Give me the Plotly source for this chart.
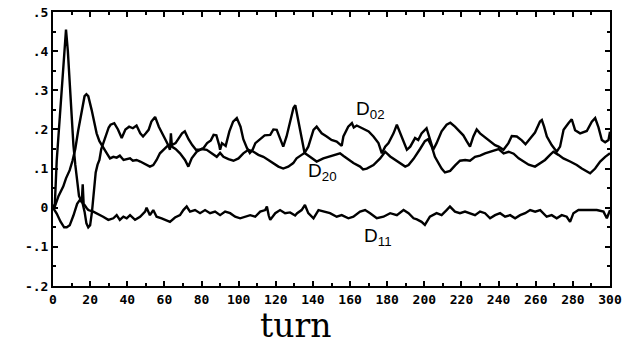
import plotly.graph_objects as go

# ---- data ----
d02_turn = [0, 1, 2, 3, 4, 5, 6, 7, 8, 9, 10, 11, 12, 13, 14, 15, 16, 17, 18, 19, 20, 21, 22, 23, 24, 25, 26, 27, 28, 29, 30, 31, 33, 35, 36, 37, 39, 41, 43, 45, 47, 48.5, 50, 51.5, 53, 55, 57, 59, 61, 62, 63, 63.5, 64, 66, 68, 69.5, 71, 73, 75, 77, 79, 81, 83, 85, 86.5, 88, 89.5, 90, 91, 93, 95, 97, 99, 101, 102.5, 104.5, 106, 107.5, 109, 111.5, 114, 117, 118.7, 120.5, 122.3, 124, 125.8, 127.6, 129.5, 130.5, 132, 133.9, 135.5, 137.5, 140.3, 142, 144.7, 147.4, 150, 152.8, 155.5, 156.4, 159, 161, 162, 163.6, 166.3, 170, 172.6, 175.3, 177.1, 178.9, 180.7, 183.4, 185.2, 187, 188.8, 190.6, 192.4, 195, 196.7, 198.5, 201.2, 203, 204.8, 206.6, 209.3, 212, 214, 216.5, 219.2, 221, 222.8, 224.6, 226.4, 228.2, 230, 232.7, 235.4, 238.1, 240, 242.6, 245.3, 247.1, 249.8, 252.5, 254.5, 257, 259.6, 262.3, 263.3, 264.5, 266, 268.6, 271.3, 273.1, 275, 277.6, 279.4, 281.2, 283.9, 287.5, 290.2, 292, 293.8, 295.6, 297.4, 299.2, 300]
d02_val = [0.0, 0.01, 0.12, 0.19, 0.26, 0.33, 0.40, 0.455, 0.40, 0.31, 0.23, 0.16, 0.11, 0.06, 0.03, 0.02, 0.01, -0.01, -0.04, -0.05, -0.045, -0.01, 0.04, 0.09, 0.11, 0.122, 0.15, 0.165, 0.18, 0.19, 0.205, 0.212, 0.216, 0.2, 0.19, 0.178, 0.2, 0.207, 0.203, 0.21, 0.19, 0.182, 0.19, 0.199, 0.22, 0.232, 0.207, 0.19, 0.17, 0.16, 0.148, 0.19, 0.16, 0.165, 0.18, 0.19, 0.195, 0.175, 0.16, 0.148, 0.148, 0.152, 0.165, 0.172, 0.186, 0.185, 0.16, 0.148, 0.165, 0.158, 0.195, 0.22, 0.229, 0.207, 0.175, 0.152, 0.14, 0.148, 0.165, 0.176, 0.185, 0.186, 0.2, 0.199, 0.178, 0.156, 0.182, 0.22, 0.255, 0.262, 0.224, 0.173, 0.14, 0.156, 0.199, 0.207, 0.19, 0.182, 0.173, 0.169, 0.158, 0.182, 0.207, 0.216, 0.205, 0.21, 0.203, 0.195, 0.182, 0.165, 0.139, 0.156, 0.165, 0.19, 0.212, 0.19, 0.165, 0.148, 0.156, 0.178, 0.173, 0.19, 0.203, 0.173, 0.148, 0.165, 0.195, 0.212, 0.217, 0.207, 0.195, 0.185, 0.17, 0.156, 0.182, 0.2, 0.19, 0.18, 0.17, 0.16, 0.156, 0.148, 0.165, 0.183, 0.182, 0.172, 0.162, 0.178, 0.192, 0.22, 0.224, 0.207, 0.182, 0.16, 0.143, 0.156, 0.199, 0.216, 0.226, 0.198, 0.19, 0.196, 0.22, 0.229, 0.205, 0.173, 0.167, 0.173, 0.194]

d20_turn = [0, 1, 3, 5.5, 7, 9, 10.5, 12, 13.6, 15.5, 17, 18, 19, 20.8, 22, 23.5, 25, 27, 29, 30.7, 32.5, 34.3, 36, 38, 40, 41.5, 43, 45, 47, 48.6, 50.5, 52.2, 54, 55.8, 57.6, 60.3, 62.1, 64, 66, 68.4, 70, 71.1, 72.9, 74.7, 77.4, 80, 82.8, 85.5, 88.2, 90, 91.8, 94.5, 97.2, 99.9, 102.5, 105.2, 108, 110.6, 113.3, 116, 118.7, 121.4, 124, 126.7, 129.4, 131.2, 133.9, 135.5, 138.4, 142, 145.6, 148, 151, 154.6, 156.5, 158.2, 161.8, 165.4, 167, 169, 172.6, 176.2, 178.9, 181.6, 184.3, 187, 189.7, 191.5, 194.2, 197.7, 200.3, 202, 204, 205.7, 207.5, 209.3, 211.1, 213.9, 216.6, 219.2, 222, 224.6, 227.3, 230, 232.7, 235.4, 238.1, 240, 242.7, 245.4, 248.1, 250.8, 253.5, 256.2, 259.6, 262.3, 265, 267.7, 269.5, 272.2, 274.9, 278.5, 282.1, 284.8, 287.5, 289.3, 292, 294.7, 297.4, 300]
d20_val = [0.0, 0.003, 0.03, 0.054, 0.075, 0.096, 0.12, 0.15, 0.198, 0.25, 0.285, 0.29, 0.285, 0.25, 0.22, 0.19, 0.17, 0.156, 0.139, 0.126, 0.13, 0.128, 0.133, 0.122, 0.125, 0.126, 0.12, 0.122, 0.118, 0.114, 0.108, 0.105, 0.109, 0.122, 0.139, 0.152, 0.16, 0.156, 0.15, 0.139, 0.13, 0.122, 0.105, 0.126, 0.143, 0.15, 0.148, 0.139, 0.13, 0.14, 0.13, 0.124, 0.12, 0.126, 0.139, 0.148, 0.143, 0.135, 0.13, 0.122, 0.114, 0.105, 0.1, 0.105, 0.114, 0.126, 0.135, 0.14, 0.13, 0.118, 0.126, 0.13, 0.135, 0.139, 0.132, 0.126, 0.114, 0.105, 0.098, 0.1, 0.109, 0.126, 0.143, 0.131, 0.122, 0.114, 0.105, 0.109, 0.125, 0.15, 0.17, 0.175, 0.156, 0.13, 0.114, 0.1, 0.09, 0.094, 0.108, 0.12, 0.122, 0.12, 0.13, 0.133, 0.139, 0.143, 0.148, 0.15, 0.139, 0.143, 0.138, 0.126, 0.118, 0.11, 0.105, 0.114, 0.122, 0.135, 0.143, 0.135, 0.126, 0.118, 0.109, 0.1, 0.092, 0.088, 0.1, 0.118, 0.13, 0.139]

d11_turn = [0, 2, 4, 6, 7.4, 9, 11, 13, 14.5, 15.5, 16, 16.5, 18, 19, 21.7, 23.5, 25, 27, 29.8, 32.5, 34.3, 36, 37.9, 39.7, 41.5, 44.2, 46.9, 49.6, 50.4, 52.2, 54, 55.8, 58.5, 60.3, 63, 65.7, 68.4, 70.2, 72, 73.8, 76.5, 79.2, 81.9, 84.6, 87.3, 90, 92.7, 95.4, 98.1, 100.8, 103.5, 106.2, 108.9, 111.6, 114.3, 115.2, 116.2, 117, 119.7, 122.3, 125, 127.7, 130.4, 131.5, 133.9, 135.7, 137.5, 140.3, 143, 145.6, 149.2, 152.8, 155.5, 159.1, 161.8, 165.4, 168.1, 170.8, 174.4, 178, 181.6, 185.2, 188.8, 191.5, 194.2, 196, 198.5, 200.3, 203, 206.6, 209.3, 212, 213.8, 216.5, 219.2, 221.9, 224.6, 227.3, 230, 232.7, 235.4, 238.1, 240.8, 243.5, 246.2, 248.9, 251.6, 254.3, 257, 259.7, 262.4, 265.9, 268.6, 271.3, 274, 276.7, 278.5, 280.3, 283, 285.7, 289.3, 292.9, 296.5, 298.3, 300]
d11_val = [0.0, -0.015, -0.035, -0.05, -0.05, -0.045, -0.02, 0.01, 0.02, 0.015, 0.06, 0.01, 0.0, -0.006, -0.01, -0.014, -0.018, -0.023, -0.031, -0.027, -0.019, -0.031, -0.023, -0.027, -0.019, -0.031, -0.023, -0.01, 0.0, -0.019, -0.006, -0.023, -0.027, -0.031, -0.036, -0.025, -0.019, -0.006, 0.003, -0.01, -0.006, -0.014, -0.006, -0.014, -0.01, -0.019, -0.01, -0.014, -0.023, -0.027, -0.023, -0.019, -0.023, -0.01, -0.006, 0.003, -0.02, -0.031, -0.014, -0.006, -0.014, -0.012, -0.02, -0.014, -0.006, 0.007, -0.014, -0.027, -0.006, -0.01, -0.014, -0.023, -0.019, -0.027, -0.023, -0.01, -0.006, -0.014, -0.027, -0.023, -0.014, -0.019, -0.006, -0.014, -0.027, -0.03, -0.036, -0.044, -0.023, -0.014, -0.019, -0.006, 0.003, -0.01, -0.014, -0.01, -0.014, -0.019, -0.01, -0.014, -0.027, -0.019, -0.014, -0.023, -0.019, -0.027, -0.019, -0.014, -0.006, -0.01, -0.006, -0.023, -0.019, -0.027, -0.019, -0.023, -0.036, -0.014, -0.006, -0.006, -0.006, -0.006, -0.01, -0.027, -0.006]

x_ticks = [0, 20, 40, 60, 80, 100, 120, 140, 160, 180, 200, 220, 240, 260, 280, 300]
y_ticks = [-0.2, -0.1, 0.0, 0.1, 0.2, 0.3, 0.4, 0.5]
y_tick_text = ["-.2", "-.1", "0", ".1", ".2", ".3", ".4", ".5"]

labels = [("D<sub>02</sub>", 162, 0.25), ("D<sub>20</sub>", 136.5, 0.09), ("D<sub>11</sub>", 166.5, -0.075)]

fig = go.Figure()
for t, v in [(d02_turn, d02_val), (d20_turn, d20_val), (d11_turn, d11_val)]:
    fig.add_trace(go.Scatter(x=t, y=v, mode="lines",
                             line=dict(color="black", width=2.4), showlegend=False))

for txt, xx, yy in labels:
    fig.add_annotation(x=xx, y=yy, text=txt, showarrow=False, xanchor="left", yanchor="middle",
                       font=dict(family="Liberation Sans, Arial", size=19, color="black"))

fig.add_annotation(xref="paper", yref="paper", x=0.436, y=-0.145, text="turn", showarrow=False,
                   xanchor="center", yanchor="middle",
                   font=dict(family="DejaVu Serif", size=33, color="black", weight=300))

tickfont = dict(family="DejaVu Sans Mono", size=13, color="black", weight="bold")
fig.update_xaxes(range=[0, 300], tickvals=x_ticks, ticktext=[str(v) for v in x_ticks],
                 ticks="inside", ticklen=5, tickwidth=1.5, tickcolor="black",
                 minor=dict(dtick=10, ticks="inside", ticklen=3, tickcolor="black"),
                 showline=True, linecolor="black", linewidth=2, mirror="ticks",
                 showgrid=False, zeroline=False, tickfont=tickfont)
fig.update_yaxes(range=[-0.2, 0.5], tickvals=y_ticks, ticktext=y_tick_text,
                 ticks="inside", ticklen=5, tickwidth=1.5, tickcolor="black",
                 minor=dict(dtick=0.05, ticks="inside", ticklen=3, tickcolor="black"),
                 showline=True, linecolor="black", linewidth=2, mirror="ticks",
                 showgrid=False, zeroline=False, tickfont=tickfont)
fig.update_layout(width=639, height=348, margin=dict(l=53, r=29, t=12, b=62, autoexpand=False),
                  plot_bgcolor="white", paper_bgcolor="white")
fig.write_html("out.html", config={"displayModeBar": False},
               post_script="document.body.style.margin='0';document.body.style.overflow='hidden';")
